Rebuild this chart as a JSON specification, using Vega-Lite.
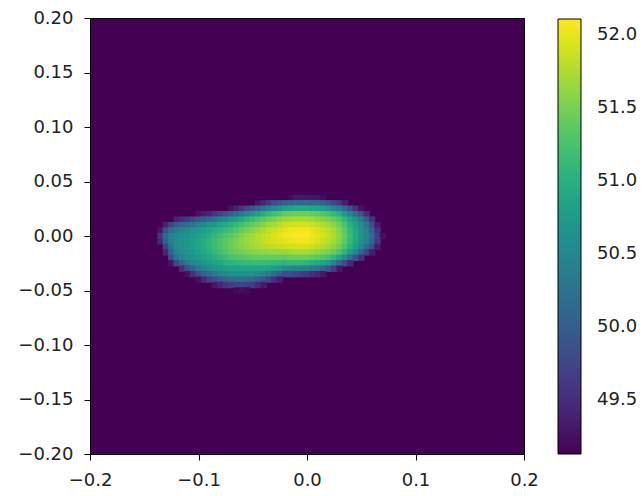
{
"$schema": "https://vega.github.io/schema/vega-lite/v6.json",
"width": 434, "height": 436,
"autosize": {"type": "none"},
"padding": {"left": 90, "top": 18, "right": 120, "bottom": 42},
"config": {
 "view": {"fill": "#440154", "stroke": "#000000", "strokeWidth": 1},
 "font": "DejaVu Sans",
 "axis": {"domain": false, "grid": false, "ticks": true, "tickColor": "#000000", "tickSize": 6, "tickWidth": 1, "labelFontSize": 18, "labelFont": "DejaVu Sans", "labelColor": "#222222", "labelPadding": 11, "labelFlush": false, "labelOverlap": false, "labelBound": false}
},
"data": {"values": [
{"x":-0.015,"y":0.035,"v":49.21},{"x":-0.01,"y":0.035,"v":49.30},{"x":-0.005,"y":0.035,"v":49.30},{"x":0,"y":0.035,"v":49.30},{"x":0.005,"y":0.035,"v":49.29},{"x":0.01,"y":0.035,"v":49.29},{"x":0.015,"y":0.035,"v":49.21},
{"x":-0.045,"y":0.03,"v":49.29},{"x":-0.04,"y":0.03,"v":49.45},{"x":-0.035,"y":0.03,"v":49.62},{"x":-0.03,"y":0.03,"v":49.79},{"x":-0.025,"y":0.03,"v":49.90},{"x":-0.02,"y":0.03,"v":50.00},{"x":-0.015,"y":0.03,"v":50.09},{"x":-0.01,"y":0.03,"v":50.16},{"x":-0.005,"y":0.03,"v":50.16},{"x":0,"y":0.03,"v":50.16},{"x":0.005,"y":0.03,"v":50.14},{"x":0.01,"y":0.03,"v":50.12},{"x":0.015,"y":0.03,"v":50.04},{"x":0.02,"y":0.03,"v":49.94},{"x":0.025,"y":0.03,"v":49.78},{"x":0.03,"y":0.03,"v":49.61},{"x":0.035,"y":0.03,"v":49.36},
{"x":-0.07,"y":0.025,"v":49.27},{"x":-0.065,"y":0.025,"v":49.42},{"x":-0.06,"y":0.025,"v":49.58},{"x":-0.055,"y":0.025,"v":49.75},{"x":-0.05,"y":0.025,"v":49.91},{"x":-0.045,"y":0.025,"v":50.08},{"x":-0.04,"y":0.025,"v":50.26},{"x":-0.035,"y":0.025,"v":50.43},{"x":-0.03,"y":0.025,"v":50.59},{"x":-0.025,"y":0.025,"v":50.71},{"x":-0.02,"y":0.025,"v":50.82},{"x":-0.015,"y":0.025,"v":50.89},{"x":-0.01,"y":0.025,"v":50.94},{"x":-0.005,"y":0.025,"v":50.95},{"x":0,"y":0.025,"v":50.94},{"x":0.005,"y":0.025,"v":50.91},{"x":0.01,"y":0.025,"v":50.88},{"x":0.015,"y":0.025,"v":50.80},{"x":0.02,"y":0.025,"v":50.71},{"x":0.025,"y":0.025,"v":50.57},{"x":0.03,"y":0.025,"v":50.39},{"x":0.035,"y":0.025,"v":50.12},{"x":0.04,"y":0.025,"v":49.85},{"x":0.045,"y":0.025,"v":49.54},{"x":0.05,"y":0.025,"v":49.26},
{"x":-0.1,"y":0.02,"v":49.26},{"x":-0.095,"y":0.02,"v":49.33},{"x":-0.09,"y":0.02,"v":49.41},{"x":-0.085,"y":0.02,"v":49.56},{"x":-0.08,"y":0.02,"v":49.71},{"x":-0.075,"y":0.02,"v":49.85},{"x":-0.07,"y":0.02,"v":49.99},{"x":-0.065,"y":0.02,"v":50.16},{"x":-0.06,"y":0.02,"v":50.32},{"x":-0.055,"y":0.02,"v":50.49},{"x":-0.05,"y":0.02,"v":50.65},{"x":-0.045,"y":0.02,"v":50.80},{"x":-0.04,"y":0.02,"v":50.95},{"x":-0.035,"y":0.02,"v":51.09},{"x":-0.03,"y":0.02,"v":51.20},{"x":-0.025,"y":0.02,"v":51.29},{"x":-0.02,"y":0.02,"v":51.38},{"x":-0.015,"y":0.02,"v":51.43},{"x":-0.01,"y":0.02,"v":51.44},{"x":-0.005,"y":0.02,"v":51.45},{"x":0,"y":0.02,"v":51.44},{"x":0.005,"y":0.02,"v":51.40},{"x":0.01,"y":0.02,"v":51.36},{"x":0.015,"y":0.02,"v":51.31},{"x":0.02,"y":0.02,"v":51.23},{"x":0.025,"y":0.02,"v":51.14},{"x":0.03,"y":0.02,"v":50.99},{"x":0.035,"y":0.02,"v":50.75},{"x":0.04,"y":0.02,"v":50.49},{"x":0.045,"y":0.02,"v":50.18},{"x":0.05,"y":0.02,"v":49.87},{"x":0.055,"y":0.02,"v":49.49},
{"x":-0.12,"y":0.015,"v":49.38},{"x":-0.115,"y":0.015,"v":49.50},{"x":-0.11,"y":0.015,"v":49.63},{"x":-0.105,"y":0.015,"v":49.76},{"x":-0.1,"y":0.015,"v":49.90},{"x":-0.095,"y":0.015,"v":49.99},{"x":-0.09,"y":0.015,"v":50.09},{"x":-0.085,"y":0.015,"v":50.24},{"x":-0.08,"y":0.015,"v":50.38},{"x":-0.075,"y":0.015,"v":50.51},{"x":-0.07,"y":0.015,"v":50.63},{"x":-0.065,"y":0.015,"v":50.77},{"x":-0.06,"y":0.015,"v":50.91},{"x":-0.055,"y":0.015,"v":51.04},{"x":-0.05,"y":0.015,"v":51.15},{"x":-0.045,"y":0.015,"v":51.25},{"x":-0.04,"y":0.015,"v":51.34},{"x":-0.035,"y":0.015,"v":51.42},{"x":-0.03,"y":0.015,"v":51.50},{"x":-0.025,"y":0.015,"v":51.58},{"x":-0.02,"y":0.015,"v":51.66},{"x":-0.015,"y":0.015,"v":51.69},{"x":-0.01,"y":0.015,"v":51.71},{"x":-0.005,"y":0.015,"v":51.72},{"x":0,"y":0.015,"v":51.71},{"x":0.005,"y":0.015,"v":51.67},{"x":0.01,"y":0.015,"v":51.62},{"x":0.015,"y":0.015,"v":51.56},{"x":0.02,"y":0.015,"v":51.49},{"x":0.025,"y":0.015,"v":51.41},{"x":0.03,"y":0.015,"v":51.28},{"x":0.035,"y":0.015,"v":51.10},{"x":0.04,"y":0.015,"v":50.88},{"x":0.045,"y":0.015,"v":50.63},{"x":0.05,"y":0.015,"v":50.35},{"x":0.055,"y":0.015,"v":50.00},{"x":0.06,"y":0.015,"v":49.56},
{"x":-0.13,"y":0.01,"v":49.39},{"x":-0.125,"y":0.01,"v":49.73},{"x":-0.12,"y":0.01,"v":49.95},{"x":-0.115,"y":0.01,"v":50.06},{"x":-0.11,"y":0.01,"v":50.18},{"x":-0.105,"y":0.01,"v":50.30},{"x":-0.1,"y":0.01,"v":50.43},{"x":-0.095,"y":0.01,"v":50.52},{"x":-0.09,"y":0.01,"v":50.63},{"x":-0.085,"y":0.01,"v":50.75},{"x":-0.08,"y":0.01,"v":50.86},{"x":-0.075,"y":0.01,"v":50.95},{"x":-0.07,"y":0.01,"v":51.02},{"x":-0.065,"y":0.01,"v":51.11},{"x":-0.06,"y":0.01,"v":51.21},{"x":-0.055,"y":0.01,"v":51.31},{"x":-0.05,"y":0.01,"v":51.39},{"x":-0.045,"y":0.01,"v":51.48},{"x":-0.04,"y":0.01,"v":51.56},{"x":-0.035,"y":0.01,"v":51.65},{"x":-0.03,"y":0.01,"v":51.72},{"x":-0.025,"y":0.01,"v":51.79},{"x":-0.02,"y":0.01,"v":51.86},{"x":-0.015,"y":0.01,"v":51.90},{"x":-0.01,"y":0.01,"v":51.92},{"x":-0.005,"y":0.01,"v":51.93},{"x":0,"y":0.01,"v":51.91},{"x":0.005,"y":0.01,"v":51.87},{"x":0.01,"y":0.01,"v":51.82},{"x":0.015,"y":0.01,"v":51.76},{"x":0.02,"y":0.01,"v":51.68},{"x":0.025,"y":0.01,"v":51.59},{"x":0.03,"y":0.01,"v":51.45},{"x":0.035,"y":0.01,"v":51.26},{"x":0.04,"y":0.01,"v":51.03},{"x":0.045,"y":0.01,"v":50.81},{"x":0.05,"y":0.01,"v":50.59},{"x":0.055,"y":0.01,"v":50.31},{"x":0.06,"y":0.01,"v":49.86},{"x":0.065,"y":0.01,"v":49.34},
{"x":-0.135,"y":0.005,"v":49.28},{"x":-0.13,"y":0.005,"v":49.88},{"x":-0.125,"y":0.005,"v":50.21},{"x":-0.12,"y":0.005,"v":50.36},{"x":-0.115,"y":0.005,"v":50.45},{"x":-0.11,"y":0.005,"v":50.54},{"x":-0.105,"y":0.005,"v":50.63},{"x":-0.1,"y":0.005,"v":50.71},{"x":-0.095,"y":0.005,"v":50.79},{"x":-0.09,"y":0.005,"v":50.89},{"x":-0.085,"y":0.005,"v":50.98},{"x":-0.08,"y":0.005,"v":51.06},{"x":-0.075,"y":0.005,"v":51.14},{"x":-0.07,"y":0.005,"v":51.21},{"x":-0.065,"y":0.005,"v":51.30},{"x":-0.06,"y":0.005,"v":51.40},{"x":-0.055,"y":0.005,"v":51.49},{"x":-0.05,"y":0.005,"v":51.57},{"x":-0.045,"y":0.005,"v":51.65},{"x":-0.04,"y":0.005,"v":51.73},{"x":-0.035,"y":0.005,"v":51.81},{"x":-0.03,"y":0.005,"v":51.87},{"x":-0.025,"y":0.005,"v":51.93},{"x":-0.02,"y":0.005,"v":51.99},{"x":-0.015,"y":0.005,"v":52.04},{"x":-0.01,"y":0.005,"v":52.06},{"x":-0.005,"y":0.005,"v":52.07},{"x":0,"y":0.005,"v":52.05},{"x":0.005,"y":0.005,"v":52.01},{"x":0.01,"y":0.005,"v":51.95},{"x":0.015,"y":0.005,"v":51.89},{"x":0.02,"y":0.005,"v":51.80},{"x":0.025,"y":0.005,"v":51.71},{"x":0.03,"y":0.005,"v":51.57},{"x":0.035,"y":0.005,"v":51.36},{"x":0.04,"y":0.005,"v":51.13},{"x":0.045,"y":0.005,"v":50.89},{"x":0.05,"y":0.005,"v":50.66},{"x":0.055,"y":0.005,"v":50.43},{"x":0.06,"y":0.005,"v":50.03},{"x":0.065,"y":0.005,"v":49.54},
{"x":-0.135,"y":0,"v":49.57},{"x":-0.13,"y":0,"v":50.12},{"x":-0.125,"y":0,"v":50.43},{"x":-0.12,"y":0,"v":50.53},{"x":-0.115,"y":0,"v":50.59},{"x":-0.11,"y":0,"v":50.66},{"x":-0.105,"y":0,"v":50.73},{"x":-0.1,"y":0,"v":50.82},{"x":-0.095,"y":0,"v":50.91},{"x":-0.09,"y":0,"v":51.01},{"x":-0.085,"y":0,"v":51.11},{"x":-0.08,"y":0,"v":51.19},{"x":-0.075,"y":0,"v":51.28},{"x":-0.07,"y":0,"v":51.35},{"x":-0.065,"y":0,"v":51.44},{"x":-0.06,"y":0,"v":51.53},{"x":-0.055,"y":0,"v":51.62},{"x":-0.05,"y":0,"v":51.69},{"x":-0.045,"y":0,"v":51.76},{"x":-0.04,"y":0,"v":51.83},{"x":-0.035,"y":0,"v":51.89},{"x":-0.03,"y":0,"v":51.94},{"x":-0.025,"y":0,"v":51.99},{"x":-0.02,"y":0,"v":52.04},{"x":-0.015,"y":0,"v":52.08},{"x":-0.01,"y":0,"v":52.10},{"x":-0.005,"y":0,"v":52.11},{"x":0,"y":0,"v":52.10},{"x":0.005,"y":0,"v":52.05},{"x":0.01,"y":0,"v":51.99},{"x":0.015,"y":0,"v":51.93},{"x":0.02,"y":0,"v":51.84},{"x":0.025,"y":0,"v":51.75},{"x":0.03,"y":0,"v":51.60},{"x":0.035,"y":0,"v":51.40},{"x":0.04,"y":0,"v":51.16},{"x":0.045,"y":0,"v":50.92},{"x":0.05,"y":0,"v":50.68},{"x":0.055,"y":0,"v":50.47},{"x":0.06,"y":0,"v":50.15},{"x":0.065,"y":0,"v":49.71},{"x":0.07,"y":0,"v":49.23},
{"x":-0.135,"y":-0.005,"v":49.44},{"x":-0.13,"y":-0.005,"v":50.06},{"x":-0.125,"y":-0.005,"v":50.44},{"x":-0.12,"y":-0.005,"v":50.58},{"x":-0.115,"y":-0.005,"v":50.64},{"x":-0.11,"y":-0.005,"v":50.71},{"x":-0.105,"y":-0.005,"v":50.79},{"x":-0.1,"y":-0.005,"v":50.88},{"x":-0.095,"y":-0.005,"v":50.97},{"x":-0.09,"y":-0.005,"v":51.07},{"x":-0.085,"y":-0.005,"v":51.17},{"x":-0.08,"y":-0.005,"v":51.26},{"x":-0.075,"y":-0.005,"v":51.35},{"x":-0.07,"y":-0.005,"v":51.43},{"x":-0.065,"y":-0.005,"v":51.51},{"x":-0.06,"y":-0.005,"v":51.59},{"x":-0.055,"y":-0.005,"v":51.66},{"x":-0.05,"y":-0.005,"v":51.72},{"x":-0.045,"y":-0.005,"v":51.78},{"x":-0.04,"y":-0.005,"v":51.84},{"x":-0.035,"y":-0.005,"v":51.89},{"x":-0.03,"y":-0.005,"v":51.93},{"x":-0.025,"y":-0.005,"v":51.96},{"x":-0.02,"y":-0.005,"v":51.99},{"x":-0.015,"y":-0.005,"v":52.04},{"x":-0.01,"y":-0.005,"v":52.06},{"x":-0.005,"y":-0.005,"v":52.07},{"x":0,"y":-0.005,"v":52.05},{"x":0.005,"y":-0.005,"v":52.01},{"x":0.01,"y":-0.005,"v":51.95},{"x":0.015,"y":-0.005,"v":51.89},{"x":0.02,"y":-0.005,"v":51.80},{"x":0.025,"y":-0.005,"v":51.71},{"x":0.03,"y":-0.005,"v":51.57},{"x":0.035,"y":-0.005,"v":51.36},{"x":0.04,"y":-0.005,"v":51.13},{"x":0.045,"y":-0.005,"v":50.89},{"x":0.05,"y":-0.005,"v":50.66},{"x":0.055,"y":-0.005,"v":50.45},{"x":0.06,"y":-0.005,"v":50.09},{"x":0.065,"y":-0.005,"v":49.63},
{"x":-0.13,"y":-0.01,"v":49.73},{"x":-0.125,"y":-0.01,"v":50.26},{"x":-0.12,"y":-0.01,"v":50.56},{"x":-0.115,"y":-0.01,"v":50.65},{"x":-0.11,"y":-0.01,"v":50.72},{"x":-0.105,"y":-0.01,"v":50.80},{"x":-0.1,"y":-0.01,"v":50.88},{"x":-0.095,"y":-0.01,"v":50.97},{"x":-0.09,"y":-0.01,"v":51.08},{"x":-0.085,"y":-0.01,"v":51.18},{"x":-0.08,"y":-0.01,"v":51.27},{"x":-0.075,"y":-0.01,"v":51.36},{"x":-0.07,"y":-0.01,"v":51.43},{"x":-0.065,"y":-0.01,"v":51.50},{"x":-0.06,"y":-0.01,"v":51.57},{"x":-0.055,"y":-0.01,"v":51.63},{"x":-0.05,"y":-0.01,"v":51.68},{"x":-0.045,"y":-0.01,"v":51.72},{"x":-0.04,"y":-0.01,"v":51.77},{"x":-0.035,"y":-0.01,"v":51.80},{"x":-0.03,"y":-0.01,"v":51.83},{"x":-0.025,"y":-0.01,"v":51.84},{"x":-0.02,"y":-0.01,"v":51.86},{"x":-0.015,"y":-0.01,"v":51.90},{"x":-0.01,"y":-0.01,"v":51.92},{"x":-0.005,"y":-0.01,"v":51.93},{"x":0,"y":-0.01,"v":51.91},{"x":0.005,"y":-0.01,"v":51.87},{"x":0.01,"y":-0.01,"v":51.82},{"x":0.015,"y":-0.01,"v":51.76},{"x":0.02,"y":-0.01,"v":51.68},{"x":0.025,"y":-0.01,"v":51.59},{"x":0.03,"y":-0.01,"v":51.45},{"x":0.035,"y":-0.01,"v":51.26},{"x":0.04,"y":-0.01,"v":51.03},{"x":0.045,"y":-0.01,"v":50.80},{"x":0.05,"y":-0.01,"v":50.53},{"x":0.055,"y":-0.01,"v":50.21},{"x":0.06,"y":-0.01,"v":49.86},{"x":0.065,"y":-0.01,"v":49.34},
{"x":-0.13,"y":-0.015,"v":49.44},{"x":-0.125,"y":-0.015,"v":50.06},{"x":-0.12,"y":-0.015,"v":50.46},{"x":-0.115,"y":-0.015,"v":50.60},{"x":-0.11,"y":-0.015,"v":50.68},{"x":-0.105,"y":-0.015,"v":50.75},{"x":-0.1,"y":-0.015,"v":50.84},{"x":-0.095,"y":-0.015,"v":50.92},{"x":-0.09,"y":-0.015,"v":51.02},{"x":-0.085,"y":-0.015,"v":51.12},{"x":-0.08,"y":-0.015,"v":51.21},{"x":-0.075,"y":-0.015,"v":51.30},{"x":-0.07,"y":-0.015,"v":51.37},{"x":-0.065,"y":-0.015,"v":51.43},{"x":-0.06,"y":-0.015,"v":51.48},{"x":-0.055,"y":-0.015,"v":51.53},{"x":-0.05,"y":-0.015,"v":51.56},{"x":-0.045,"y":-0.015,"v":51.59},{"x":-0.04,"y":-0.015,"v":51.62},{"x":-0.035,"y":-0.015,"v":51.64},{"x":-0.03,"y":-0.015,"v":51.65},{"x":-0.025,"y":-0.015,"v":51.65},{"x":-0.02,"y":-0.015,"v":51.66},{"x":-0.015,"y":-0.015,"v":51.69},{"x":-0.01,"y":-0.015,"v":51.71},{"x":-0.005,"y":-0.015,"v":51.72},{"x":0,"y":-0.015,"v":51.71},{"x":0.005,"y":-0.015,"v":51.67},{"x":0.01,"y":-0.015,"v":51.62},{"x":0.015,"y":-0.015,"v":51.56},{"x":0.02,"y":-0.015,"v":51.49},{"x":0.025,"y":-0.015,"v":51.41},{"x":0.03,"y":-0.015,"v":51.28},{"x":0.035,"y":-0.015,"v":51.07},{"x":0.04,"y":-0.015,"v":50.78},{"x":0.045,"y":-0.015,"v":50.47},{"x":0.05,"y":-0.015,"v":50.14},{"x":0.055,"y":-0.015,"v":49.74},{"x":0.06,"y":-0.015,"v":49.36},
{"x":-0.125,"y":-0.02,"v":49.81},{"x":-0.12,"y":-0.02,"v":50.28},{"x":-0.115,"y":-0.02,"v":50.47},{"x":-0.11,"y":-0.02,"v":50.59},{"x":-0.105,"y":-0.02,"v":50.66},{"x":-0.1,"y":-0.02,"v":50.74},{"x":-0.095,"y":-0.02,"v":50.82},{"x":-0.09,"y":-0.02,"v":50.91},{"x":-0.085,"y":-0.02,"v":51.01},{"x":-0.08,"y":-0.02,"v":51.09},{"x":-0.075,"y":-0.02,"v":51.17},{"x":-0.07,"y":-0.02,"v":51.24},{"x":-0.065,"y":-0.02,"v":51.28},{"x":-0.06,"y":-0.02,"v":51.32},{"x":-0.055,"y":-0.02,"v":51.35},{"x":-0.05,"y":-0.02,"v":51.38},{"x":-0.045,"y":-0.02,"v":51.39},{"x":-0.04,"y":-0.02,"v":51.40},{"x":-0.035,"y":-0.02,"v":51.41},{"x":-0.03,"y":-0.02,"v":51.41},{"x":-0.025,"y":-0.02,"v":51.40},{"x":-0.02,"y":-0.02,"v":51.39},{"x":-0.015,"y":-0.02,"v":51.43},{"x":-0.01,"y":-0.02,"v":51.44},{"x":-0.005,"y":-0.02,"v":51.45},{"x":0,"y":-0.02,"v":51.44},{"x":0.005,"y":-0.02,"v":51.40},{"x":0.01,"y":-0.02,"v":51.36},{"x":0.015,"y":-0.02,"v":51.31},{"x":0.02,"y":-0.02,"v":51.23},{"x":0.025,"y":-0.02,"v":51.10},{"x":0.03,"y":-0.02,"v":50.87},{"x":0.035,"y":-0.02,"v":50.56},{"x":0.04,"y":-0.02,"v":50.21},{"x":0.045,"y":-0.02,"v":49.86},{"x":0.05,"y":-0.02,"v":49.54},
{"x":-0.125,"y":-0.025,"v":49.27},{"x":-0.12,"y":-0.025,"v":49.77},{"x":-0.115,"y":-0.025,"v":50.08},{"x":-0.11,"y":-0.025,"v":50.33},{"x":-0.105,"y":-0.025,"v":50.49},{"x":-0.1,"y":-0.025,"v":50.60},{"x":-0.095,"y":-0.025,"v":50.67},{"x":-0.09,"y":-0.025,"v":50.76},{"x":-0.085,"y":-0.025,"v":50.85},{"x":-0.08,"y":-0.025,"v":50.92},{"x":-0.075,"y":-0.025,"v":51.00},{"x":-0.07,"y":-0.025,"v":51.06},{"x":-0.065,"y":-0.025,"v":51.09},{"x":-0.06,"y":-0.025,"v":51.11},{"x":-0.055,"y":-0.025,"v":51.13},{"x":-0.05,"y":-0.025,"v":51.14},{"x":-0.045,"y":-0.025,"v":51.14},{"x":-0.04,"y":-0.025,"v":51.15},{"x":-0.035,"y":-0.025,"v":51.14},{"x":-0.03,"y":-0.025,"v":51.13},{"x":-0.025,"y":-0.025,"v":51.12},{"x":-0.02,"y":-0.025,"v":51.09},{"x":-0.015,"y":-0.025,"v":51.11},{"x":-0.01,"y":-0.025,"v":51.11},{"x":-0.005,"y":-0.025,"v":51.10},{"x":0,"y":-0.025,"v":51.07},{"x":0.005,"y":-0.025,"v":51.01},{"x":0.01,"y":-0.025,"v":50.95},{"x":0.015,"y":-0.025,"v":50.84},{"x":0.02,"y":-0.025,"v":50.71},{"x":0.025,"y":-0.025,"v":50.46},{"x":0.03,"y":-0.025,"v":50.15},{"x":0.035,"y":-0.025,"v":49.80},{"x":0.04,"y":-0.025,"v":49.45},
{"x":-0.115,"y":-0.03,"v":49.51},{"x":-0.11,"y":-0.03,"v":49.85},{"x":-0.105,"y":-0.03,"v":50.09},{"x":-0.1,"y":-0.03,"v":50.30},{"x":-0.095,"y":-0.03,"v":50.45},{"x":-0.09,"y":-0.03,"v":50.57},{"x":-0.085,"y":-0.03,"v":50.65},{"x":-0.08,"y":-0.03,"v":50.72},{"x":-0.075,"y":-0.03,"v":50.78},{"x":-0.07,"y":-0.03,"v":50.84},{"x":-0.065,"y":-0.03,"v":50.85},{"x":-0.06,"y":-0.03,"v":50.87},{"x":-0.055,"y":-0.03,"v":50.88},{"x":-0.05,"y":-0.03,"v":50.87},{"x":-0.045,"y":-0.03,"v":50.87},{"x":-0.04,"y":-0.03,"v":50.86},{"x":-0.035,"y":-0.03,"v":50.84},{"x":-0.03,"y":-0.03,"v":50.77},{"x":-0.025,"y":-0.03,"v":50.68},{"x":-0.02,"y":-0.03,"v":50.55},{"x":-0.015,"y":-0.03,"v":50.53},{"x":-0.01,"y":-0.03,"v":50.50},{"x":-0.005,"y":-0.03,"v":50.45},{"x":0,"y":-0.03,"v":50.40},{"x":0.005,"y":-0.03,"v":50.33},{"x":0.01,"y":-0.03,"v":50.25},{"x":0.015,"y":-0.03,"v":50.10},{"x":0.02,"y":-0.03,"v":49.94},{"x":0.025,"y":-0.03,"v":49.64},{"x":0.03,"y":-0.03,"v":49.30},
{"x":-0.11,"y":-0.035,"v":49.25},{"x":-0.105,"y":-0.035,"v":49.54},{"x":-0.1,"y":-0.035,"v":49.81},{"x":-0.095,"y":-0.035,"v":50.01},{"x":-0.09,"y":-0.035,"v":50.19},{"x":-0.085,"y":-0.035,"v":50.33},{"x":-0.08,"y":-0.035,"v":50.44},{"x":-0.075,"y":-0.035,"v":50.52},{"x":-0.07,"y":-0.035,"v":50.59},{"x":-0.065,"y":-0.035,"v":50.60},{"x":-0.06,"y":-0.035,"v":50.61},{"x":-0.055,"y":-0.035,"v":50.61},{"x":-0.05,"y":-0.035,"v":50.59},{"x":-0.045,"y":-0.035,"v":50.55},{"x":-0.04,"y":-0.035,"v":50.48},{"x":-0.035,"y":-0.035,"v":50.36},{"x":-0.03,"y":-0.035,"v":50.18},{"x":-0.025,"y":-0.035,"v":50.02},{"x":-0.02,"y":-0.035,"v":49.84},{"x":-0.015,"y":-0.035,"v":49.79},{"x":-0.01,"y":-0.035,"v":49.73},{"x":-0.005,"y":-0.035,"v":49.67},{"x":0,"y":-0.035,"v":49.60},{"x":0.005,"y":-0.035,"v":49.52},{"x":0.01,"y":-0.035,"v":49.44},{"x":0.015,"y":-0.035,"v":49.29},
{"x":-0.1,"y":-0.04,"v":49.24},{"x":-0.095,"y":-0.04,"v":49.46},{"x":-0.09,"y":-0.04,"v":49.67},{"x":-0.085,"y":-0.04,"v":49.83},{"x":-0.08,"y":-0.04,"v":49.98},{"x":-0.075,"y":-0.04,"v":50.08},{"x":-0.07,"y":-0.04,"v":50.18},{"x":-0.065,"y":-0.04,"v":50.20},{"x":-0.06,"y":-0.04,"v":50.23},{"x":-0.055,"y":-0.04,"v":50.19},{"x":-0.05,"y":-0.04,"v":50.16},{"x":-0.045,"y":-0.04,"v":50.05},{"x":-0.04,"y":-0.04,"v":49.93},{"x":-0.035,"y":-0.04,"v":49.73},{"x":-0.03,"y":-0.04,"v":49.51},{"x":-0.025,"y":-0.04,"v":49.33},
{"x":-0.085,"y":-0.045,"v":49.29},{"x":-0.08,"y":-0.045,"v":49.44},{"x":-0.075,"y":-0.045,"v":49.55},{"x":-0.07,"y":-0.045,"v":49.65},{"x":-0.065,"y":-0.045,"v":49.69},{"x":-0.06,"y":-0.045,"v":49.72},{"x":-0.055,"y":-0.045,"v":49.68},{"x":-0.05,"y":-0.045,"v":49.63},{"x":-0.045,"y":-0.045,"v":49.49},{"x":-0.04,"y":-0.045,"v":49.34},
{"x":-0.065,"y":-0.05,"v":49.18},{"x":-0.06,"y":-0.05,"v":49.22},{"x":-0.055,"y":-0.05,"v":49.18}
]},
"mark": {"type": "rect", "width": 6.4, "height": 6.4},
"encoding": {
 "x": {"field": "x", "type": "quantitative", "scale": {"domain": [-0.2, 0.2], "nice": false, "zero": false}, "axis": {"values": [-0.2, -0.1, 0, 0.1, 0.2], "format": ".1f", "title": null}},
 "y": {"field": "y", "type": "quantitative", "scale": {"domain": [-0.2, 0.2], "nice": false, "zero": false}, "axis": {"values": [-0.2, -0.15, -0.1, -0.05, 0, 0.05, 0.1, 0.15, 0.2], "format": ".2f", "title": null}},
 "color": {"field": "v", "type": "quantitative", "scale": {"scheme": "viridis", "domain": [49.13, 52.11], "clamp": true},
  "legend": {"orient": "none", "legendX": 468, "legendY": 1, "title": null, "direction": "vertical", "values": [49.5, 50, 50.5, 51, 51.5, 52], "format": ".1f", "gradientLength": 435, "gradientThickness": 23, "gradientStrokeColor": "#000000", "gradientStrokeWidth": 1, "labelFontSize": 18, "labelFont": "DejaVu Sans", "labelColor": "#222222", "labelOffset": 16, "labelOverlap": false, "padding": 0}}
}
}
